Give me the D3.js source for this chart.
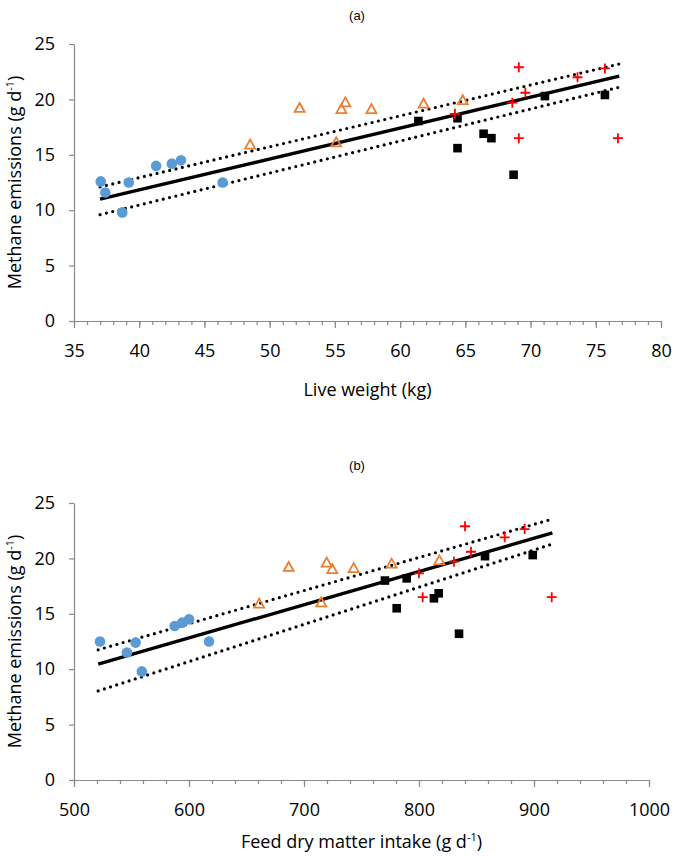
<!DOCTYPE html>
<html><head><meta charset="utf-8">
<script src="https://cdn.jsdelivr.net/npm/d3@7"></script>
<style>body{margin:0;background:#fff} svg text{font-family:"Open Sans",sans-serif;fill:#000}</style>
</head><body><svg id="c" width="675" height="857"></svg>
<script>
// Panel (a): live weight (kg) vs methane emissions (g/d)
const aBlueX = [37.05, 37.4, 38.7, 39.2, 41.3, 42.5, 43.2, 46.4];
const aBlueY = [12.6, 11.6, 9.8, 12.5, 14.0, 14.2, 14.5, 12.5];
const aOrangeX = [48.5, 52.3, 55.1, 55.5, 55.8, 57.8, 61.8, 64.8];
const aOrangeY = [15.9, 19.2, 16.1, 19.1, 19.7, 19.1, 19.6, 19.9];
const aBlackX = [61.4, 64.4, 64.4, 66.4, 67.0, 68.7, 71.1, 75.7];
const aBlackY = [18.05, 18.3, 15.6, 16.9, 16.5, 13.2, 20.3, 20.4];
const aRedX = [64.2, 68.6, 69.1, 69.6, 69.1, 73.6, 75.7, 76.7];
const aRedY = [18.7, 19.7, 22.9, 20.6, 16.5, 22.0, 22.8, 16.5];
const aFitX = [37.0, 76.8];
const aFitY = [11.0, 22.1];
const aUpperY = [12.1, 23.2];
const aLowerY = [9.6, 21.1];
const aXTicks = [35, 40, 45, 50, 55, 60, 65, 70, 75, 80];

// Panel (b): feed dry matter intake (g/d) vs methane emissions (g/d)
const bBlueX = [522.6, 546, 553.6, 559, 587.5, 594, 600, 617.4];
const bBlueY = [12.5, 11.5, 12.4, 9.8, 13.9, 14.2, 14.5, 12.5];
const bOrangeX = [661, 686.7, 715, 719.7, 724.6, 743.2, 776.2, 817.7];
const bOrangeY = [15.9, 19.2, 16.0, 19.6, 19.0, 19.1, 19.5, 19.8];
const bBlackX = [770.4, 780.6, 789.3, 813, 817.1, 834.8, 857.4, 898.9];
const bBlackY = [18.0, 15.5, 18.2, 16.4, 16.85, 13.2, 20.2, 20.3];
const bRedX = [800, 803.2, 830.4, 840, 845.2, 874.5, 891.9, 915.4];
const bRedY = [18.65, 16.5, 19.7, 22.9, 20.6, 21.9, 22.65, 16.5];
const bFitX = [521, 916];
const bFitY = [10.45, 22.3];
const bUpperY = [11.75, 23.55];
const bLowerY = [8.04, 21.3];
const bXTicks = [500, 600, 700, 800, 900, 1000];

const yTicks = [0, 5, 10, 15, 20, 25];

const svg = d3.select("#c");
const AX = "#898989";

function panel(o) {
  const x = d3.scaleLinear().domain(o.xDomain).range([74, o.xRight]);
  const y = d3.scaleLinear().domain([0, 25]).range([o.y0, o.y25]);
  const g = svg.append("g");

  // title
  g.append("text").attr("x", o.titleX).attr("y", o.titleY).attr("text-anchor", "middle")
    .style("font-family", "Liberation Sans, Arial, sans-serif").style("font-size", "13px").text(o.title);

  // y axis
  g.append("g").attr("transform", `translate(74,0)`)
    .call(d3.axisLeft(y).tickValues(yTicks).tickSize(5).tickSizeOuter(0).tickPadding(14).tickFormat(d3.format("d")));
  // x minor ticks
  g.append("g").attr("transform", `translate(0,${o.y0})`)
    .call(d3.axisBottom(x).tickValues(o.minor).tickSize(4).tickSizeOuter(0).tickFormat(""));
  // x major ticks + labels
  g.append("g").attr("transform", `translate(0,${o.y0})`)
    .call(d3.axisBottom(x).tickValues(o.xTicks).tickSize(7).tickSizeOuter(0).tickPadding(16).tickFormat(d3.format("d")));
  g.selectAll(".domain, .tick line").attr("stroke", AX).attr("stroke-width", 1.2);
  g.selectAll(".tick text").style("font-size", "18px").style("font-family", "Open Sans, sans-serif").attr("fill", "#000");

  // axis titles
  const yt = g.append("text").attr("transform", `translate(21,${(o.y0 + o.y25) / 2}) rotate(-90)`)
    .attr("text-anchor", "middle").style("font-size", "18px");
  yt.append("tspan").text("Methane emissions (g d");
  yt.append("tspan").attr("dy", -7).style("font-size", "11px").text("-1");
  yt.append("tspan").attr("dy", 7).text(")");
  const xt = g.append("text").attr("x", (74 + o.xRight) / 2).attr("y", o.xTitleY)
    .attr("text-anchor", "middle").style("font-size", "18px");
  xt.append("tspan").text(o.xTitle);
  if (o.xSup) {
    xt.append("tspan").attr("dy", -7).style("font-size", "11px").text("-1");
    xt.append("tspan").attr("dy", 7).text(")");
  }

  // fit lines
  const line = d3.line().x(d => x(d[0])).y(d => y(d[1]));
  const mk = ys => o.fitX.map((v, i) => [v, ys[i]]);
  g.append("path").attr("d", line(mk(o.upper))).attr("fill", "none").attr("stroke", "#000")
    .attr("stroke-width", 3.2).attr("stroke-linecap", "round").attr("stroke-dasharray", "0 6.5");
  g.append("path").attr("d", line(mk(o.lower))).attr("fill", "none").attr("stroke", "#000")
    .attr("stroke-width", 3.2).attr("stroke-linecap", "round").attr("stroke-dasharray", "0 6.5");
  g.append("path").attr("d", line(mk(o.fit))).attr("fill", "none").attr("stroke", "#000")
    .attr("stroke-width", 3.4);

  const pts = (xs, ys) => xs.map((v, i) => [x(v), y(ys[i])]);
  // blue circles
  g.selectAll(null).data(pts(o.blueX, o.blueY)).join("circle")
    .attr("cx", d => d[0]).attr("cy", d => d[1]).attr("r", 5.3).attr("fill", "#5B9BD5");
  // orange open triangles
  g.selectAll(null).data(pts(o.orX, o.orY)).join("path")
    .attr("d", d => `M${d[0]},${d[1] - 5.3} L${d[0] + 5},${d[1] + 3.7} L${d[0] - 5},${d[1] + 3.7} Z`)
    .attr("fill", "none").attr("stroke", "#ED7D31").attr("stroke-width", 1.8);
  // black squares
  g.selectAll(null).data(pts(o.bkX, o.bkY)).join("rect")
    .attr("x", d => d[0] - 4.3).attr("y", d => d[1] - 4.3).attr("width", 8.6).attr("height", 8.6).attr("fill", "#000");
  // red plus
  g.selectAll(null).data(pts(o.rdX, o.rdY)).join("path")
    .attr("d", d => `M${d[0] - 5},${d[1]} H${d[0] + 5} M${d[0]},${d[1] - 5} V${d[1] + 5}`)
    .attr("stroke", "#FF0000").attr("stroke-width", 1.8);
}

panel({
  title: "(a)", titleX: 357, titleY: 20,
  xDomain: [35, 80], xRight: 661, y0: 321, y25: 44,
  xTicks: aXTicks, minor: d3.range(35, 81, 1), xTitle: "Live weight (kg)", xTitleY: 396,
  blueX: aBlueX, blueY: aBlueY, orX: aOrangeX, orY: aOrangeY, bkX: aBlackX, bkY: aBlackY,
  rdX: aRedX, rdY: aRedY, fitX: aFitX, fit: aFitY, upper: aUpperY, lower: aLowerY
});
panel({
  title: "(b)", titleX: 357, titleY: 470,
  xDomain: [500, 1000], xRight: 649, y0: 780, y25: 503,
  xTicks: bXTicks, minor: d3.range(500, 1001, 20), xTitle: "Feed dry matter intake (g d", xSup: true, xTitleY: 848,
  blueX: bBlueX, blueY: bBlueY, orX: bOrangeX, orY: bOrangeY, bkX: bBlackX, bkY: bBlackY,
  rdX: bRedX, rdY: bRedY, fitX: bFitX, fit: bFitY, upper: bUpperY, lower: bLowerY
});
</script></body></html>
